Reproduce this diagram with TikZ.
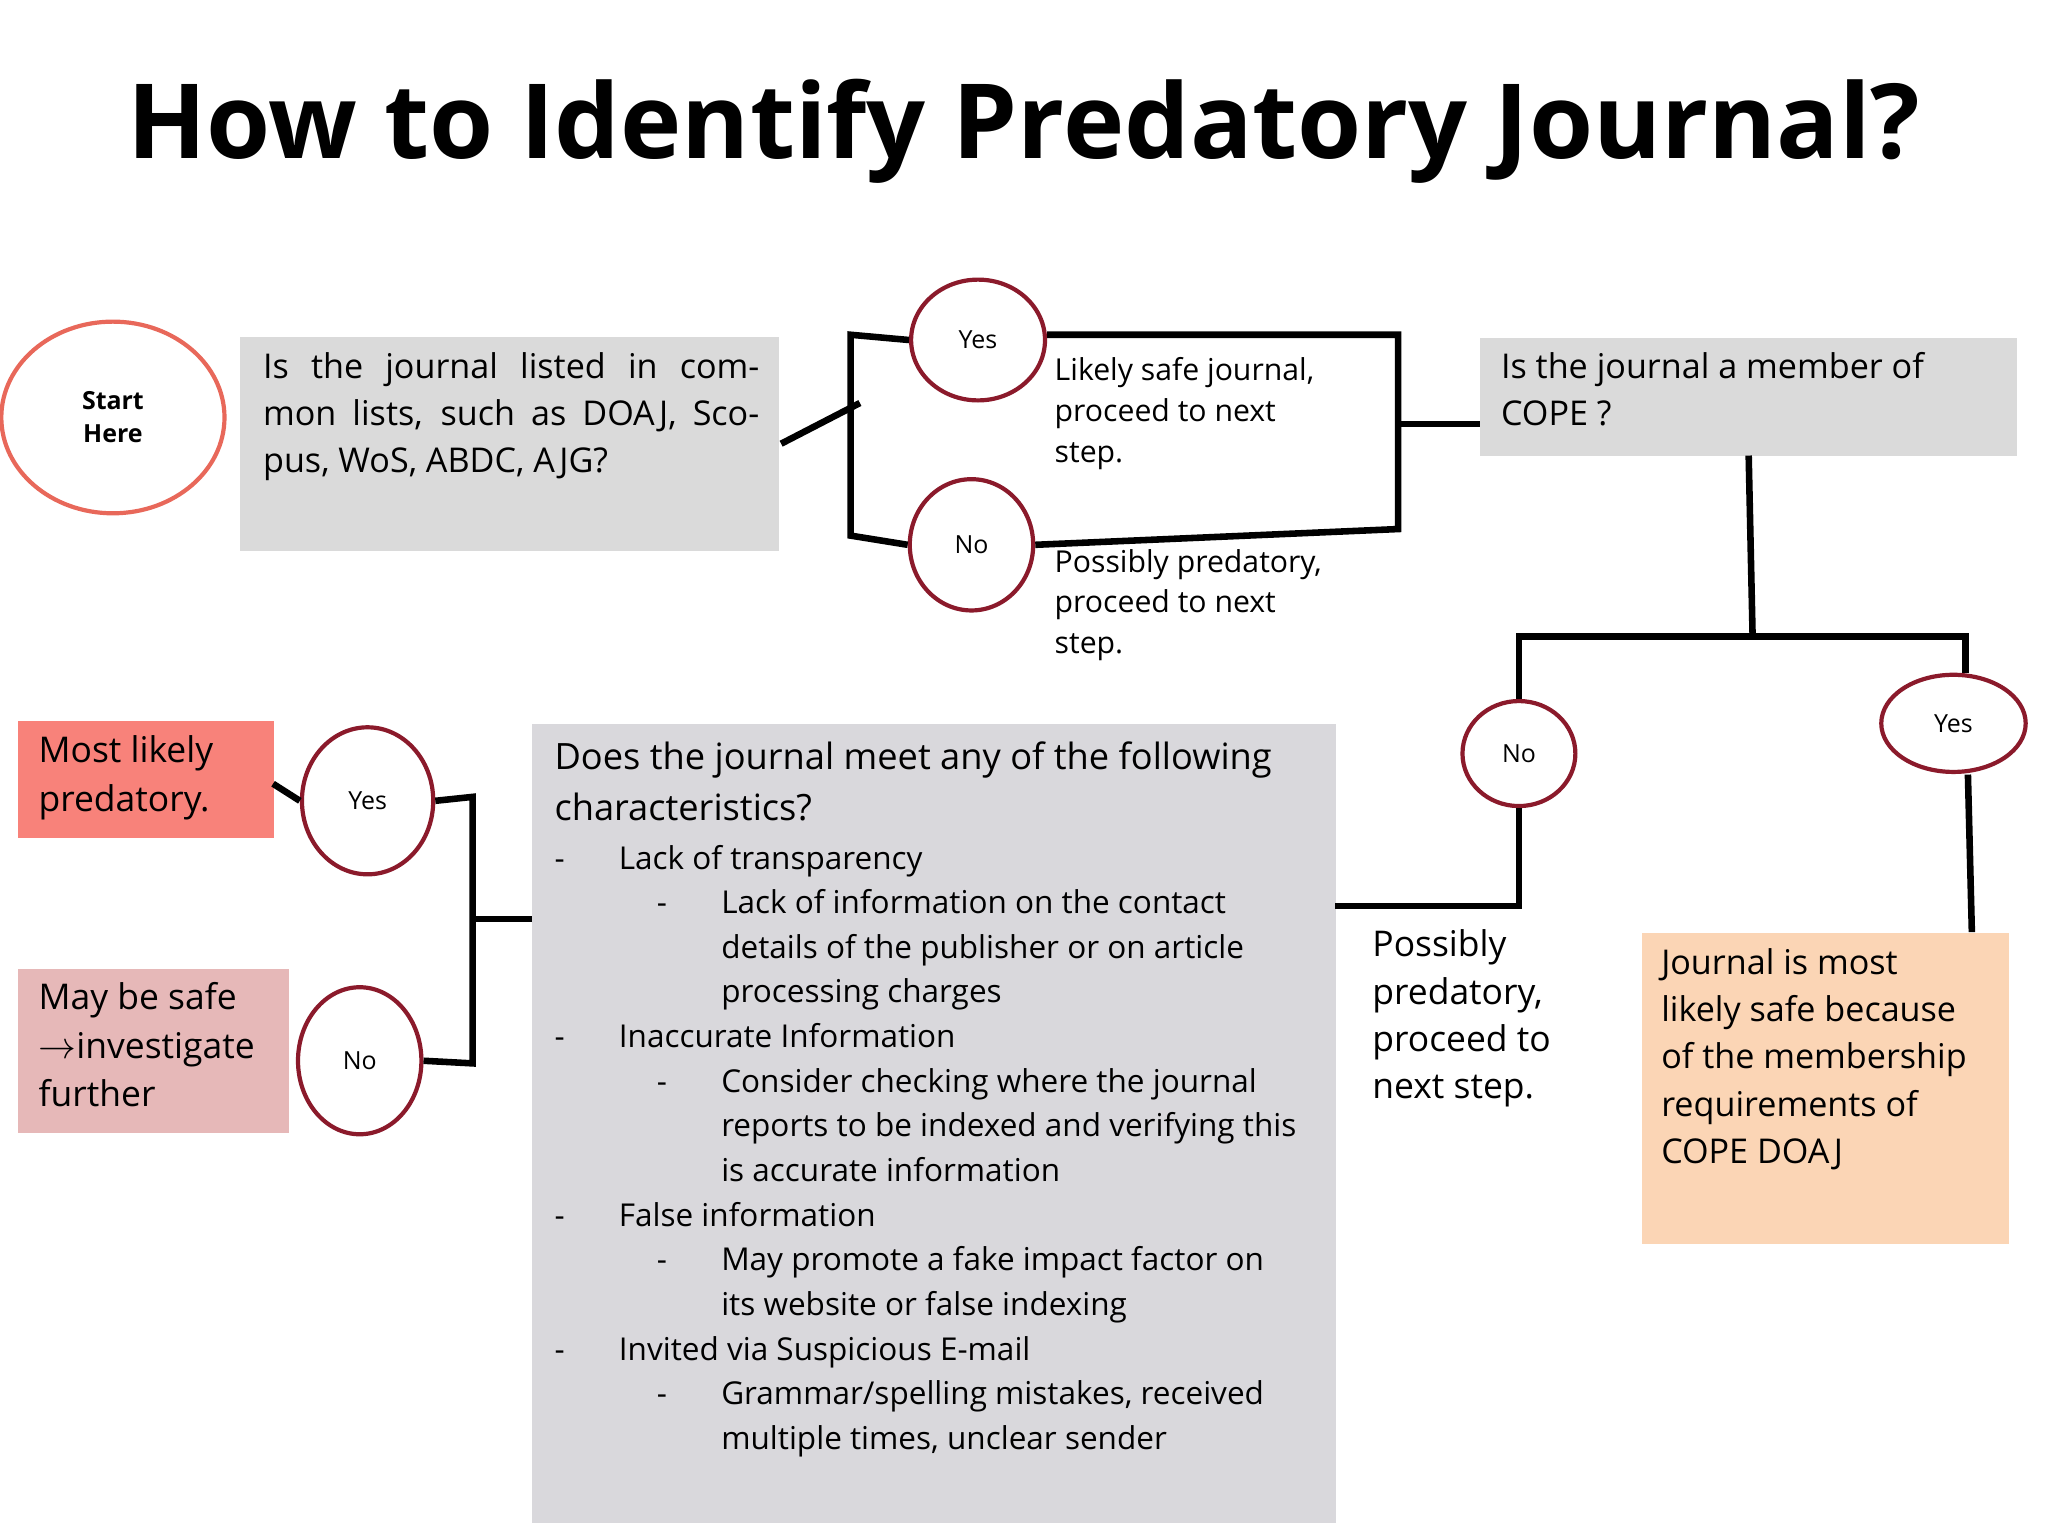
\documentclass[tikz,border=0pt]{standalone}
\usepackage{fontspec}
\setmainfont{Open Sans}
\usetikzlibrary{shapes}
\definecolor{BoxGray}{HTML}{DADADA}
\definecolor{ListGray}{HTML}{D9D8DC}
\definecolor{CircRed}{HTML}{8B1A2B}
\definecolor{StartRed}{HTML}{E8685A}
\definecolor{PredRed}{HTML}{F8827A}
\definecolor{SafePink}{HTML}{E6B8B8}
\definecolor{SafeOrange}{HTML}{FBD5B5}
\tikzset{
  link/.style={line width=2.5pt},
  answer/.style={ellipse, draw=CircRed, line width=1.6pt, fill=white, font=\fontsize{9.5}{11}\selectfont},
  box/.style={anchor=north west, inner sep=0pt},
  line/.style={anchor=base west, inner sep=0pt, font=\fontsize{12}{15}\selectfont}
}

\begin{document}
\begin{tikzpicture}[x=0.5pt,y=-0.5pt]
				\useasboundingbox (0,0) rectangle (1560,1170);
				\node[font=\bfseries\fontsize{39.5}{45}\selectfont] (title) at (780,100) {How to Identify Predatory Journal?};

				% first question
				\node[ellipse, draw=StartRed, line width=1.6pt, minimum width=85pt, minimum height=73pt, align=center, font=\bfseries\fontsize{9.5}{12.5}\selectfont] (start) at (86,318) {Start\\Here};
				\fill[BoxGray] (183,257) rectangle (593,420);
				\node[box, text width=189pt, align=justify, font=\fontsize{13}{18}\selectfont] (q1) at (200,268) {\hyphenpenalty=10000 Is the journal listed in common lists, such as DOAJ, Scopus, WoS, ABDC, AJG?};
				\coordinate (q1e) at (595,338);
				\coordinate (b1) at (655,307);
				\draw[link] (q1e) -- (b1);

				\node[answer, minimum width=51pt, minimum height=46pt] (yes1) at (745,259) {Yes};
				\node[answer, minimum width=47pt, minimum height=50pt] (no1) at (740,415) {No};
				\coordinate (tl) at (648,255); \coordinate (bl) at (648,408);
				\coordinate (tr) at (1065,255); \coordinate (br) at (1065,403);
				\coordinate (mr) at (1066,323);
				\draw[link] (yes1.west) -- (tl) -- (bl) -- (no1.west);
				\draw[link] (yes1.east |- tr) -- (tr) -- (br) -- (no1.east);
				\node[box, align=left, font=\fontsize{11.5}{15.5}\selectfont] (safe1) at (803,272) {Likely safe journal,\\proceed to next\\step.};
				\node[box, align=left, font=\fontsize{11.5}{15.5}\selectfont] (pred1) at (803,418) {Possibly predatory,\\proceed to next\\step.};

				% second question
				\node[box, fill=BoxGray, minimum width=204.5pt, minimum height=45pt] (q2) at (1127,257) {};
				\node[box, align=left, font=\fontsize{13}{18}\selectfont] (q2t) at (1143,268) {Is the journal a member of\\COPE ?};
				\draw[link] (mr) -- (q2.west |- mr);
				\coordinate (q2b) at (1332,347);
				\coordinate (fork) at (1335,485);
				\coordinate (fl) at (1157,485); \coordinate (fr) at (1497,485);
				\draw[link] (q2b) -- (fork);
				\node[answer, minimum width=43pt, minimum height=40pt] (no2) at (1157,574) {No};
				\node[answer, minimum width=55pt, minimum height=37pt] (yes2) at (1488,551) {Yes};
				\draw[link] (no2.north) -- (fl) -- (fr) -- (yes2.north -| fr);
				\node[box, fill=SafeOrange, minimum width=140pt, minimum height=118.5pt] (cope) at (1250,710) {};
				\node[box, align=left, font=\fontsize{13}{18}\selectfont] (copet) at (1265,722) {Journal is most\\likely safe because\\of the membership\\requirements of\\COPE DOAJ};
				\draw[link] (1499,590) -- (1502,710);
				\node[box, align=left, font=\fontsize{13.5}{18}\selectfont] (pred2) at (1045,708) {Possibly\\predatory,\\proceed to\\next step.};

				% characteristics
				\node[box, fill=ListGray, minimum width=306pt, minimum height=304.5pt] (q3) at (405,551) {};
				\coordinate (nl) at (1157,690);
				\coordinate (q3r) at (1017,690);
				\draw[link] (no2.south) -- (nl) -- (q3r);
				\foreach \yy/\xx/\txt in {586/422/{Does the journal meet any of the following}, 625/422/{characteristics?}} {
					\node[line, font=\fontsize{13.8}{17}\selectfont] at (\xx,\yy) {\txt};
				}
				\foreach \yy/\xx/\txt in {
					662/471/{Lack of transparency}, 696/549/{Lack of information on the contact}, 730/549/{details of the publisher or on article}, 764/549/{processing charges},
					798/471/{Inaccurate Information}, 832/549/{Consider checking where the journal}, 866/549/{reports to be indexed and verifying this}, 900/549/{is accurate information},
					934/471/{False information}, 968/549/{May promote a fake impact factor on}, 1002/549/{its website or false indexing},
					1036/471/{Invited via Suspicious E-mail}, 1070/549/{Grammar/spelling mistakes, received}, 1104/549/{multiple times, unclear sender}} {
					\node[line] at (\xx,\yy) {\txt};
				}
				\foreach \yy in {662,798,934,1036} \node[line] at (422,\yy) {-};
				\foreach \yy in {696,832,968,1070} \node[line] at (500,\yy) {-};

				% left answers
				\node[answer, minimum width=50pt, minimum height=56pt] (yes3) at (280,610) {Yes};
				\node[answer, minimum width=47pt, minimum height=56pt] (no3) at (274,808) {No};
				\coordinate (lt) at (360,607); \coordinate (lb) at (360,810); \coordinate (lm) at (362,700);
				\draw[link] (yes3.east) -- (lt) -- (lb) -- (no3.east);
				\draw[link] (lm) -- (q3.west |- lm);
				\node[box, fill=PredRed, minimum width=97.5pt, minimum height=44.5pt] (pred3) at (13,549) {};
				\node[box, align=left, font=\fontsize{13.5}{18.5}\selectfont] (pred3t) at (29,560) {Most likely\\predatory.};
				\draw[link] (208,597) -- (yes3.west);
				\node[box, fill=SafePink, minimum width=103.5pt, minimum height=62.5pt] (may) at (13,738) {};
				\node[box, align=left, font=\fontsize{13.5}{18.5}\selectfont] (mayt) at (29,748) {May be safe\\$\rightarrow$investigate\\further};
			\end{tikzpicture}
\end{document}
